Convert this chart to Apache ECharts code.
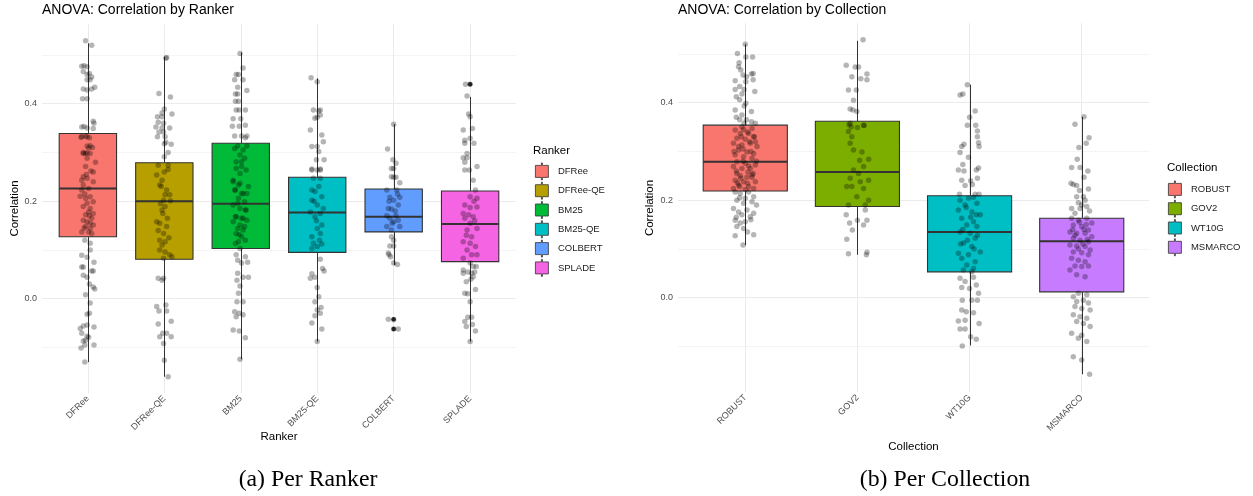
<!DOCTYPE html>
<html><head><meta charset="utf-8">
<script src="https://cdn.jsdelivr.net/npm/echarts@6/dist/echarts.min.js"></script>
<style>html,body{margin:0;padding:0;background:#fff}#c{width:1253px;height:496px}</style>
</head><body><div id="c"></div>
<script>
// ---------------- DATA ----------------
const rankers = ['DFRee', 'DFRee-QE', 'BM25', 'BM25-QE', 'COLBERT', 'SPLADE'];
const collections = ['ROBUST', 'GOV2', 'WT10G', 'MSMARCO'];
const yTickLabels = ['0.0', '0.2', '0.4'];
// [lower whisker, Q1, median, Q3, upper whisker]
const rankerStats = [
  [-0.130, 0.127, 0.226, 0.339, 0.524],
  [-0.160, 0.081, 0.200, 0.279, 0.496],
  [-0.124, 0.103, 0.195, 0.319, 0.505],
  [-0.088, 0.095, 0.177, 0.249, 0.452],
  [0.069, 0.137, 0.168, 0.225, 0.358],
  [-0.088, 0.076, 0.153, 0.221, 0.414]
];
const collectionStats = [
  [0.108, 0.219, 0.279, 0.354, 0.520],
  [0.088, 0.187, 0.258, 0.362, 0.527],
  [-0.098, 0.053, 0.135, 0.209, 0.437],
  [-0.157, 0.012, 0.116, 0.163, 0.371]
];
// outliers: [category index, value]
const rankerOutliers = [[4, -0.042], [4, -0.062], [5, 0.440]];
const collectionOutliers = [];
// jittered points: [x offset within category, value]
const ptsDFRee = [[-0.03,0.529],[0.05,0.52],[-0.08,0.477],[-0.05,0.478],[-0.01,0.476],[-0.06,0.466],[-0.01,0.46],[0.02,0.462],[0.05,0.455],[-0.01,0.449],[0.03,0.449],[-0.06,0.43],[-0.01,0.428],[0.05,0.43],[0.09,0.434],[-0.07,0.41],[-0.01,0.41],[0.07,0.364],[0.08,0.36],[-0.08,0.352],[-0.05,0.353],[-0.01,0.35],[0.07,0.349],[-0.09,0.331],[-0.03,0.333],[0.02,0.33],[-0.01,0.313],[0.03,0.314],[-0.06,0.30],[-0.03,0.298],[-0.01,0.299],
[-0.08,0.332],[-0.01,0.332],[-0.06,0.298],[0.01,0.309],[0.03,0.298],[-0.01,0.288],[-0.03,0.271],[0.07,0.26],[-0.06,0.25],[-0.01,0.247],[-0.08,0.243],[0.07,0.24],[-0.06,0.233],[0.01,0.226],[-0.08,0.223],[0.03,0.209],[-0.03,0.206],[0.07,0.199],[-0.01,0.196],[-0.06,0.189],[0.03,0.185],[0.01,0.178],[0.07,0.175],[-0.03,0.172],[0.05,0.165],[-0.06,0.161],[-0.01,0.158],[0.03,0.155],[0.07,0.151],[-0.03,0.148],[0.03,0.144],[-0.08,0.137],[0.01,0.137],[0.05,0.134],[0.1,0.28],[-0.1,0.21],[0.04,0.262],[-0.04,0.215],[0.06,0.31],[-0.05,0.145],[0.02,0.17],[-0.02,0.255],
[-0.04,0.12],[0.03,0.114],[0.03,0.10],[-0.08,0.089],[-0.01,0.085],[-0.06,0.065],[-0.08,0.065],[0.08,0.075],[0.05,0.057],[0.07,0.057],[-0.06,0.048],[-0.01,0.044],[0.02,0.03],[0.07,0.024],[0.09,0.02],[-0.03,0.008],[0.03,-0.009],[-0.01,-0.032],[0.02,-0.03],[-0.1,-0.061],[-0.06,-0.056],[-0.01,-0.054],[0.08,-0.058],[-0.08,-0.071],[-0.01,-0.077],[0.01,-0.079],[-0.06,-0.087],[-0.03,-0.085],[-0.04,-0.095],[0.08,-0.095],[-0.09,-0.101],[-0.04,-0.13]];
const ptsDFReeQE = [[0.03,0.495],[0.02,0.493],[-0.07,0.421],[0.08,0.414],[0,0.389],[-0.03,0.381],[-0.09,0.373],[-0.03,0.373],[0.1,0.379],[-0.08,0.362],[-0.01,0.36],[-0.11,0.352],[-0.03,0.35],[0.07,0.35],[-0.07,0.342],[-0.01,0.342],[-0.09,0.332],[0.01,0.332],[0.02,0.321],[0.09,0.317],[0,0.318],[0.05,0.30],[0,0.291],
[-0.08,0.274],[0.05,0.274],[-0.1,0.254],[-0.03,0.243],[-0.06,0.233],[0.03,0.223],[0.01,0.213],[0.07,0.213],[-0.01,0.202],[0.08,0.201],[0.01,0.189],[-0.03,0.182],[-0.02,0.175],[-0.1,0.158],[-0.06,0.155],[0.03,0.148],[-0.01,0.134],[-0.06,0.12],[0.01,0.117],[-0.03,0.11],[-0.06,0.10],[0.01,0.096],[0.07,0.09],[-0.01,0.083],[0.1,0.086],[0.05,0.265],[-0.04,0.23],[0.04,0.165],[-0.08,0.14],[0.06,0.125],[0.0,0.26],[-0.05,0.195],
[-0.08,0.042],[-0.01,0.042],[-0.03,0.038],[-0.1,-0.016],[0.02,-0.013],[-0.07,-0.025],[0.03,-0.025],[0.09,-0.046],[-0.08,-0.052],[-0.02,-0.071],[0.03,-0.071],[-0.06,-0.078],[0.09,-0.078],[-0.01,-0.092],[0,-0.126],[0.05,-0.16]];
const ptsBM25 = [[-0.01,0.503],[0.03,0.473],[-0.06,0.46],[-0.03,0.46],[-0.08,0.449],[0.03,0.449],[-0.04,0.434],[0.08,0.427],[-0.07,0.42],[-0.04,0.42],[-0.03,0.405],[-0.07,0.405],[-0.06,0.387],[-0.02,0.387],[0.06,0.387],[-0.1,0.369],[0,0.369],[-0.11,0.354],[-0.02,0.354],[0.06,0.356],[-0.08,0.334],[0.01,0.334],[0.08,0.334],[0.06,0.33],[-0.04,0.313],[0.08,0.313],
[-0.08,0.308],[0.03,0.305],[-0.01,0.295],[0.05,0.288],[-0.06,0.281],[0.01,0.271],[0.07,0.264],[-0.1,0.243],[-0.01,0.237],[0.1,0.23],[-0.08,0.223],[0.01,0.216],[-0.03,0.206],[0.05,0.199],[-0.1,0.192],[-0.01,0.185],[0.07,0.182],[-0.06,0.168],[0.03,0.165],[-0.1,0.158],[-0.01,0.151],[0.05,0.148],[-0.06,0.134],[0.01,0.127],[-0.03,0.117],
[0.01,0.281],[-0.06,0.267],[-0.01,0.257],[-0.1,0.24],[-0.03,0.233],[-0.07,0.223],[0.03,0.216],[0.08,0.216],[-0.04,0.196],[0.06,0.182],[-0.07,0.168],[0.01,0.165],[0.08,0.161],[-0.04,0.144],[0.03,0.141],[-0.02,0.131],[0.06,0.12],[-0.07,0.113],[-0.01,0.103],
[-0.06,0.09],[0.06,0.086],[-0.04,0.079],[0.09,0.075],[0.01,0.073],[-0.04,0.052],[0.1,0.044],[0.03,0.044],[-0.05,0.038],[-0.01,0.026],[-0.03,0.011],[-0.05,-0.006],[0.03,-0.006],[-0.08,-0.027],[-0.02,-0.03],[-0.06,-0.037],[0.03,-0.033],[-0.1,-0.064],[-0.02,-0.066],[0.06,-0.08],[-0.01,-0.124]];
const ptsBM25QE = [[-0.08,0.453],[0,0.445],[-0.05,0.387],[0.02,0.385],[0.04,0.387],[-0.03,0.37],[0,0.372],[0.04,0.377],[-0.09,0.346],[0.06,0.336],[0.08,0.322],[-0.07,0.312],[0,0.312],[0.02,0.302],[0.09,0.285],[-0.01,0.285],[-0.07,0.264],[0,0.264],[0.04,0.264],[-0.07,0.266],[0.04,0.266],
[-0.05,0.247],[0.04,0.247],[-0.07,0.223],[-0.03,0.22],[0.06,0.209],[-0.07,0.202],[0,0.192],[-0.09,0.178],[0.04,0.175],[-0.03,0.168],[0.06,0.151],[0,0.144],[-0.07,0.127],[0.04,0.134],[-0.05,0.114],[0,0.107],[0.06,0.112],[-0.07,0.103],[0.02,0.23],[-0.01,0.16],[0.08,0.185],[-0.04,0.2],[0.03,0.12],
[0.04,0.081],[0.07,0.062],[0.09,0.057],[-0.07,0.051],[-0.09,0.042],[-0.03,0.044],[0,0.023],[0.02,0.004],[-0.03,-0.006],[0.05,-0.018],[0,-0.023],[0.04,-0.03],[-0.03,-0.035],[-0.07,-0.05],[0.06,-0.062],[0,-0.088]];
const ptsCOLBERT = [[0,0.358],[-0.08,0.307],[-0.01,0.285],[0.03,0.278],[-0.03,0.267],[0,0.267],[0,0.249],[0.03,0.249],[-0.03,0.25],[0.08,0.238],[-0.09,0.223],[0.04,0.223],[-0.05,0.208],[0.08,0.208],[0,0.202],[0.06,0.192],[-0.07,0.185],[-0.03,0.184],[-0.09,0.17],[0.03,0.17],[-0.05,0.165],[0.06,0.161],[0,0.158],[-0.09,0.148],[0.08,0.148],[-0.03,0.141],[0.02,0.18],[-0.06,0.2],[0.05,0.215],[-0.02,0.155],
[-0.03,0.127],[0,0.12],[-0.05,0.108],[0,0.108],[-0.07,0.094],[-0.06,0.09],[-0.04,0.086],[0,0.073],[0.05,0.07],[-0.07,-0.042],[0,-0.043],[0,-0.062],[0.06,-0.062]];
const ptsSPLADE = [[-0.06,0.44],[0,0.44],[-0.04,0.416],[-0.02,0.379],[0,0.373],[-0.09,0.346],[0.03,0.349],[-0.07,0.325],[-0.07,0.319],[0.05,0.319],[0,0.329],[-0.04,0.298],[-0.09,0.289],[-0.04,0.289],[-0.07,0.28],[0.09,0.271],[-0.07,0.264],[-0.01,0.264],[0.04,0.243],[0.07,0.223],
[0,0.209],[0.09,0.206],[-0.07,0.192],[0,0.187],[0.09,0.188],[-0.09,0.175],[-0.02,0.172],[0.04,0.168],[-0.07,0.165],[0,0.155],[0.09,0.144],[-0.04,0.141],[0.02,0.127],[-0.09,0.117],[0,0.114],[0.07,0.107],[-0.04,0.10],[0.02,0.09],[0.09,0.09],[-0.09,0.083],[0.05,0.2],[-0.05,0.13],[0.06,0.16],
[0,0.073],[0.04,0.066],[0.08,0.066],[-0.09,0.059],[-0.03,0.055],[0.02,0.052],[0.06,0.055],[-0.09,0.052],[0.04,0.045],[0.01,0.04],[-0.05,0.035],[0.07,0.019],[-0.07,0.011],[-0.03,0.01],[0,-0.006],[-0.03,-0.038],[0.02,-0.038],[-0.07,-0.047],[0.03,-0.053],[-0.05,-0.057],[0.07,-0.066],[0,-0.088]];
const ptsROBUST = [[0,0.52],[-0.07,0.501],[0.065,0.494],[0.005,0.494],[-0.055,0.482],[-0.06,0.474],[-0.04,0.467],[0.07,0.46],[0.055,0.459],[0.01,0.453],[-0.02,0.457],[-0.09,0.445],[0.005,0.443],[0.07,0.447],[-0.05,0.433],[-0.01,0.427],[-0.09,0.427],[-0.03,0.418],[0.085,0.423],[-0.08,0.412],[-0.05,0.406],[0.005,0.399],[-0.01,0.393],[-0.09,0.385],[0.055,0.382],[-0.03,0.375],[-0.08,0.37],[-0.05,0.365],[0.01,0.365],[0.055,0.361],[-0.01,0.358],
[-0.09,0.344],[-0.015,0.345],[0.06,0.347],[0.09,0.358],[-0.045,0.337],[0.03,0.337],[0.075,0.33],[-0.075,0.327],[0,0.325],[0.09,0.32],[-0.105,0.317],[-0.03,0.313],[0.045,0.317],[0.105,0.31],[-0.06,0.303],[0.015,0.299],[0.075,0.296],[-0.09,0.293],[-0.015,0.289],[0.06,0.286],[-0.075,0.279],[0,0.276],[0.09,0.272],[-0.105,0.269],[-0.03,0.265],[0.045,0.265],[-0.075,0.255],[-0.045,0.25],[0.015,0.247],[0.06,0.247],[-0.09,0.241],[-0.015,0.238],[0.09,0.238],[-0.06,0.231],[0.03,0.228],[-0.105,0.224],[0,0.222],[0.075,0.224],
[-0.03,0.35],[0.02,0.34],[-0.06,0.31],[0.05,0.3],[-0.02,0.28],[0.03,0.27],[-0.08,0.26],[0.07,0.255],[-0.04,0.245],[0.02,0.235],[-0.05,0.228],[0.08,0.33],[-0.1,0.3],[0.1,0.28],[0.04,0.32],[-0.02,0.305],[0.06,0.252],[-0.07,0.236],[0.025,0.258],[-0.035,0.33],
[-0.09,0.217],[-0.045,0.214],[0.03,0.217],[0.075,0.207],[0,0.204],[-0.075,0.2],[0.06,0.197],[-0.015,0.194],[-0.105,0.183],[0.015,0.18],[-0.06,0.176],[0.075,0.173],[-0.03,0.17],[0.045,0.166],[-0.09,0.159],[0,0.156],[-0.045,0.153],[-0.075,0.146],[-0.015,0.142],[0.075,0.129],[-0.09,0.127],[-0.02,0.108],[0.1,0.19],[-0.05,0.205],[0.05,0.16],[-0.08,0.165],[0.02,0.135]];
const ptsGOV2 = [[0.05,0.529],[-0.1,0.477],[-0.02,0.473],[0.01,0.473],[0.085,0.459],[-0.05,0.453],[0.03,0.449],[0.085,0.447],[-0.08,0.426],[-0.01,0.426],[-0.035,0.405],[-0.065,0.387],[-0.04,0.385],[-0.005,0.382],[-0.075,0.355],[-0.055,0.35],[0.0,0.349],[0.06,0.353],
[-0.065,0.358],[0.055,0.354],[-0.08,0.341],[-0.05,0.33],[-0.065,0.317],[-0.035,0.303],[0.04,0.299],[0.02,0.282],[0.1,0.284],[-0.035,0.262],[0.055,0.269],[0.01,0.255],[-0.065,0.245],[0.1,0.241],[0.025,0.238],[-0.095,0.228],[-0.05,0.228],[0.055,0.224],[-0.005,0.207],[0.1,0.2],[-0.08,0.19],[0.07,0.19],
[0.07,0.18],[-0.1,0.17],[-0.07,0.153],[0,0.159],[0.085,0.159],[0.055,0.149],[-0.045,0.139],[-0.095,0.12],[-0.08,0.09],[0.085,0.093],[0.08,0.088]];
const ptsWT10G = [[-0.02,0.437],[-0.085,0.416],[-0.06,0.418],[0.05,0.383],[0,0.37],[0.055,0.354],[-0.02,0.354],[0.07,0.342],[0.07,0.33],[-0.05,0.315],[-0.07,0.31],[-0.085,0.298],[-0.01,0.288],[0.08,0.318],[0.085,0.31],[-0.06,0.273],[-0.1,0.262],[-0.05,0.26],[0.08,0.266],[0.06,0.262],[0.07,0.245],[0.01,0.24],[-0.07,0.241],[-0.04,0.23],[0.025,0.232],[-0.09,0.212],[0.05,0.212],[0.085,0.212],
[-0.085,0.2],[-0.01,0.204],[0.035,0.206],[-0.04,0.19],[0.065,0.194],[-0.1,0.18],[0.02,0.176],[0.095,0.17],[-0.07,0.163],[0.035,0.156],[-0.025,0.149],[0.065,0.146],[-0.085,0.135],[0.005,0.132],[0.05,0.122],[-0.055,0.112],[0.02,0.105],[0.095,0.094],[-0.1,0.091],[-0.01,0.088],[-0.07,0.081],[0.05,0.074],[-0.025,0.067],[0.035,0.06],[-0.055,0.057],[0.02,0.053],[-0.03,0.185],[0.01,0.165],[-0.06,0.14],[0.07,0.128],[-0.02,0.118],[0.04,0.1],[-0.08,0.11],[0.06,0.17],
[-0.085,0.04],[-0.04,0.033],[0.035,0.042],[-0.07,0.021],[0,0.019],[0.06,0.026],[0.08,0.009],[-0.065,-0.005],[0.02,-0.005],[0.07,-0.005],[-0.07,-0.025],[-0.03,-0.029],[0.035,-0.031],[-0.1,-0.048],[-0.04,-0.046],[0.085,-0.053],[-0.085,-0.064],[-0.04,-0.064],[0.01,-0.08],[0.06,-0.085],[-0.065,-0.099]];
const ptsMSMARCO = [[0.02,0.371],[-0.06,0.356],[0.065,0.328],[0.04,0.317],[-0.025,0.308],[-0.04,0.284],[-0.09,0.267],[-0.015,0.267],[0.055,0.26],[0.02,0.247],[-0.095,0.235],[-0.075,0.232],[-0.045,0.23],[-0.02,0.22],[0.06,0.223],
[-0.045,0.207],[0.015,0.207],[-0.09,0.183],[-0.015,0.183],[0.045,0.187],[-0.06,0.173],[0.03,0.2],[-0.03,0.195],[0.07,0.178],[0.0,0.19],
[-0.09,0.163],[-0.03,0.159],[0.045,0.163],[0.09,0.153],[-0.075,0.149],[0,0.146],[0.06,0.139],[-0.105,0.135],[-0.045,0.132],[0.03,0.132],[0.09,0.125],[-0.075,0.122],[-0.015,0.118],[0.06,0.115],[-0.105,0.108],[-0.045,0.106],[0.03,0.105],[0.075,0.098],[-0.075,0.094],[0,0.092],[0.06,0.088],[-0.09,0.081],[-0.03,0.077],[0.03,0.074],[-0.06,0.065],[0,0.064],[0.06,0.065],[-0.105,0.057],[-0.045,0.047],[0.03,0.043],[-0.02,0.155],[0.02,0.14],[-0.06,0.128],[0.01,0.11],[-0.03,0.1],[0.05,0.12],[0.04,0.15],[-0.08,0.14],
[-0.03,0.009],[0.045,0.006],[-0.075,0.002],[0.015,-0.005],[-0.045,-0.008],[0.06,-0.011],[-0.06,-0.018],[0,-0.022],[0.075,-0.025],[-0.075,-0.035],[-0.015,-0.039],[0.045,-0.042],[-0.045,-0.049],[0.015,-0.053],[0.075,-0.059],[-0.09,-0.073],[0,-0.077],[-0.03,-0.083],[0.045,-0.09],[-0.075,-0.121],[0,-0.128],[0.07,-0.157]];
const rankerPoints = [ptsDFRee, ptsDFReeQE, ptsBM25, ptsBM25QE, ptsCOLBERT, ptsSPLADE];
const collectionPoints = [ptsROBUST, ptsGOV2, ptsWT10G, ptsMSMARCO];

// ---------------- STYLE ----------------
const rankerColors = ['#F8766D', '#B79F00', '#00BA38', '#00BFC4', '#619CFF', '#F564E3'];
const collectionColors = ['#F8766D', '#7CAE00', '#00BFC4', '#C77CFF'];
const FONT = '"Liberation Sans", Arial, sans-serif';
const GRID_MAJOR = '#ebebeb';
const GRID_MINOR = '#f4f4f4';
const BOX_W = 0.75;
const KEY_ICON = 'path://M6.5,0H7.5V2.5H13.5V14.5H7.5V17H6.5V14.5H0.5V2.5H6.5Z';

function boxRender(params, api) {
  const x = api.value(0);
  const lo = api.coord([x, api.value(1)]);
  const q1 = api.coord([x, api.value(2)]);
  const md = api.coord([x, api.value(3)]);
  const q3 = api.coord([x, api.value(4)]);
  const hi = api.coord([x, api.value(5)]);
  const w = api.size([BOX_W, 0])[0];
  const cx = Math.round(lo[0]) + 0.5;
  return {
    type: 'group',
    children: [
      { type: 'line', shape: { x1: cx, y1: lo[1], x2: cx, y2: q1[1] }, style: { stroke: '#333', lineWidth: 1 } },
      { type: 'line', shape: { x1: cx, y1: q3[1], x2: cx, y2: hi[1] }, style: { stroke: '#333', lineWidth: 1 } },
      { type: 'rect', shape: { x: q1[0] - w / 2, y: q3[1], width: w, height: q1[1] - q3[1] },
        style: { fill: api.visual('color'), stroke: '#333', lineWidth: 1.1 } },
      { type: 'line', shape: { x1: md[0] - w / 2, y1: md[1], x2: md[0] + w / 2, y2: md[1] },
        style: { stroke: '#333', lineWidth: 2 } }
    ]
  };
}

function yLabel(v) {
  const s = (Math.round(v * 10) / 10).toFixed(1);
  return yTickLabels.indexOf(s) >= 0 ? s : '';
}

function bgYAxis(gridIndex) {
  return {
    gridIndex, type: 'value', min: -0.2, max: 0.6, interval: 0.1,
    axisLine: { show: false }, axisTick: { show: false },
    axisLabel: { formatter: yLabel, fontSize: 9, color: '#4d4d4d', margin: 5, fontFamily: FONT },
    splitLine: { show: true, showMinLine: false, showMaxLine: false,
      lineStyle: { color: [GRID_MINOR, GRID_MAJOR], width: 1 } }
  };
}
function dataYAxis(gridIndex) {
  return { gridIndex, type: 'value', min: -0.2, max: 0.6, show: false };
}
function catXAxis(gridIndex, cats, name, nameGap, offset) {
  return {
    gridIndex, type: 'category', data: cats, position: 'bottom', offset, boundaryGap: true,
    axisLine: { show: false, onZero: false },
    axisTick: { show: true, alignWithLabel: true, inside: true, length: 369, interval: 0,
      lineStyle: { color: GRID_MAJOR, width: 1 } },
    axisLabel: { interval: 0, rotate: 45, fontSize: 9, color: '#4d4d4d', margin: 4, fontFamily: FONT },
    splitLine: { show: false },
    name, nameLocation: 'middle', nameGap, nameMoveOverlap: false,
    nameTextStyle: { fontSize: 11.5, color: '#000', fontFamily: FONT }
  };
}

function buildSeries(cats, stats, colors, pts, outliers, xIdx, yIdx) {
  const s = [];
  cats.forEach((c, i) => {
    s.push({
      type: 'custom', name: c, xAxisIndex: xIdx, yAxisIndex: yIdx, silent: true, z: 2,
      renderItem: boxRender, encode: { x: 0, y: [1, 2, 3, 4, 5] },
      itemStyle: { color: colors[i], borderColor: '#333', borderWidth: 1 },
      data: [[i].concat(stats[i])]
    });
  });
  s.push({
    type: 'scatter', name: 'outliers', xAxisIndex: xIdx, yAxisIndex: yIdx, silent: true, z: 3,
    symbolSize: 4.5, itemStyle: { color: '#000' }, data: outliers
  });
  const jit = [];
  pts.forEach((arr, i) => arr.forEach(p => jit.push([i + p[0], p[1]])));
  s.push({
    type: 'scatter', name: 'points', xAxisIndex: xIdx, yAxisIndex: yIdx, silent: true, z: 4,
    symbolSize: 5.5, itemStyle: { color: 'rgba(0,0,0,0.36)' }, data: jit
  });
  return s;
}

function legend(cats, left, top) {
  return {
    data: cats, left, top, orient: 'vertical', padding: 0,
    itemWidth: 14, itemHeight: 17, itemGap: 1.5, icon: KEY_ICON, selectedMode: false,
    itemStyle: { borderColor: '#333', borderWidth: 0.8 },
    textStyle: { fontSize: 9.5, color: '#1a1a1a', fontFamily: FONT, padding: [0, 0, 0, 4] }
  };
}

const titleStyle = (size) => ({ fontSize: size, fontWeight: 'normal', color: '#000', fontFamily: FONT });

const option = {
  backgroundColor: '#fff',
  animation: false,
  title: [
    { text: 'ANOVA: Correlation by Ranker', left: 42, top: 3, padding: 0, textStyle: titleStyle(14) },
    { text: 'ANOVA: Correlation by Collection', left: 678, top: 3, padding: 0, textStyle: titleStyle(14) },
    { text: 'Ranker', left: 533, top: 144.5, padding: 0, textStyle: titleStyle(11.5) },
    { text: 'Collection', left: 1167, top: 161.5, padding: 0, textStyle: titleStyle(11.5) }
  ],
  legend: [legend(rankers, 535, 162.5), legend(collections, 1168, 180.5)],
  grid: [
    { left: 42, top: 6.2, width: 474, height: 390 },
    { left: 49.65, top: 6.2, width: 458.7, height: 390 },
    { left: 678, top: 5.2, width: 471, height: 390 },
    { left: 689.2, top: 5.2, width: 448.6, height: 390 }
  ],
  xAxis: [
    { gridIndex: 0, type: 'value', min: 0, max: 1, show: false },
    catXAxis(1, rankers, 'Ranker', 38, -3),
    { gridIndex: 1, type: 'value', min: -0.5, max: rankers.length - 0.5, show: false },
    { gridIndex: 2, type: 'value', min: 0, max: 1, show: false },
    catXAxis(3, collections, 'Collection', 49, -3),
    { gridIndex: 3, type: 'value', min: -0.5, max: collections.length - 0.5, show: false }
  ],
  yAxis: [bgYAxis(0), dataYAxis(1), bgYAxis(2), dataYAxis(3)],
  series: [].concat(
    buildSeries(rankers, rankerStats, rankerColors, rankerPoints, rankerOutliers, 2, 1),
    buildSeries(collections, collectionStats, collectionColors, collectionPoints, collectionOutliers, 5, 3)
  ),
  graphic: [
    { type: 'text', x: 14.5, y: 208.5, rotation: Math.PI / 2,
      style: { text: 'Correlation', font: '11.5px "Liberation Sans", Arial, sans-serif', fill: '#000', align: 'center', verticalAlign: 'middle' } },
    { type: 'text', x: 650, y: 208, rotation: Math.PI / 2,
      style: { text: 'Correlation', font: '11.5px "Liberation Sans", Arial, sans-serif', fill: '#000', align: 'center', verticalAlign: 'middle' } },
    { type: 'text', x: 308, y: 480,
      style: { text: '(a) Per Ranker', font: '23.8px "Liberation Serif", "Times New Roman", serif', fill: '#000', align: 'center', verticalAlign: 'middle' } },
    { type: 'text', x: 945, y: 480,
      style: { text: '(b) Per Collection', font: '23.8px "Liberation Serif", "Times New Roman", serif', fill: '#000', align: 'center', verticalAlign: 'middle' } }
  ]
};

const chart = echarts.init(document.getElementById('c'), null, { renderer: 'canvas' });
chart.setOption(option);
</script>
</body></html>
